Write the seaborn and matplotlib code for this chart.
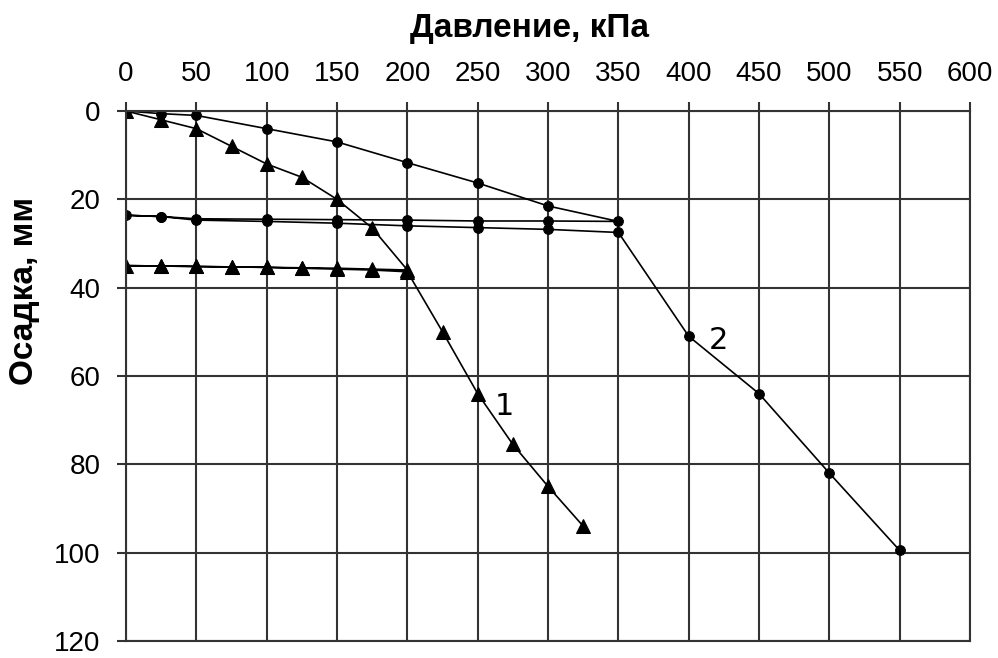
# ============================================================
# Осадка штампа: кривые 1 и 2 (нагрузка / разгрузка)
# ============================================================

import pandas as pd
import matplotlib.pyplot as plt
import seaborn as sns

# ============================================================
# Data
# ============================================================

# curve 1 (triangles): load -> unload -> reload -> load
curve1_p = [0, 25, 50, 75, 100, 125, 150, 175, 200,
            175, 150, 125, 100, 75, 50, 25, 0,
            25, 50, 75, 100, 125, 150, 175, 200,
            225, 250, 275, 300, 325]
curve1_s = [0, 2, 4, 8, 12, 15, 20, 26.5, 36,
            35.8, 35.6, 35.5, 35.4, 35.3, 35.2, 35.1, 35.0,
            35.1, 35.2, 35.3, 35.4, 35.6, 35.8, 36.0, 36.4,
            50, 64, 75.5, 85, 94]

# curve 2 (circles): load -> unload -> reload -> load
curve2_p = [0, 25, 50, 100, 150, 200, 250, 300, 350,
            300, 250, 200, 150, 100, 50, 25, 0,
            25, 50, 100, 150, 200, 250, 300, 350,
            400, 450, 500, 550]
curve2_s = [0, 0.6, 1, 4, 7, 11.7, 16.3, 21.5, 25,
            24.9, 24.9, 24.7, 24.6, 24.5, 24.4, 23.9, 23.6,
            23.9, 24.7, 25.0, 25.4, 26.0, 26.4, 26.8, 27.5,
            51, 64, 82, 99.5]

x_ticks = list(range(0, 601, 50))
y_ticks = list(range(0, 121, 20))

curve_labels = ["1", "2"]
label_pos_p = [269, 421]
label_pos_s = [67, 52]

df1 = pd.DataFrame({"p": curve1_p, "s": curve1_s})
df2 = pd.DataFrame({"p": curve2_p, "s": curve2_s})

# ============================================================
# Plot
# ============================================================

sns.set_style("white")
plt.rcParams["font.family"] = ["Liberation Sans", "DejaVu Sans"]
plt.rcParams["text.color"] = "black"
plt.rcParams["axes.labelcolor"] = "black"
plt.rcParams["xtick.color"] = "black"
plt.rcParams["ytick.color"] = "black"

fig = plt.figure(figsize=(9.98, 6.58), dpi=100)
ax = fig.add_axes([0.1263, 0.0258, 0.8457, 0.8055])

sns.lineplot(
    data=df1, x="p", y="s",
    sort=False, estimator=None,
    color="black", linewidth=1.2,
    marker="^", markersize=10,
    markeredgecolor="black", markerfacecolor="black",
    ax=ax
)

sns.lineplot(
    data=df2, x="p", y="s",
    sort=False, estimator=None,
    color="black", linewidth=1.2,
    marker="o", markersize=7,
    markeredgecolor="black", markerfacecolor="black",
    ax=ax
)

for lab, px, sy in zip(curve_labels, label_pos_p, label_pos_s):
    ax.text(px, sy, lab, fontsize=22, family="DejaVu Sans",
            color="black", ha="center", va="center")

ax.set_xlim(0, 600)
ax.set_ylim(120, 0)
ax.set_xticks(x_ticks)
ax.set_yticks(y_ticks)

ax.xaxis.tick_top()
ax.xaxis.set_label_position("top")
ax.set_xlabel("Давление, кПа", fontsize=24, fontweight="bold")
ax.xaxis.set_label_coords(0.4775, 1.156)
ax.xaxis.label.set_va("center")

ax.set_ylabel("Осадка, мм", fontsize=24, fontweight="bold")
ax.yaxis.set_label_coords(-0.12, 0.66)
ax.yaxis.label.set_va("center")

ax.tick_params(axis="x", length=6.5, width=1.5, color="#333333",
               labelcolor="black", pad=11, labelsize=20, top=True)
ax.tick_params(axis="y", length=6.5, width=1.5, color="#333333",
               labelcolor="black", pad=12, labelsize=20, left=True)

ax.grid(True, color="#333333", linewidth=1.5)
for spine in ax.spines.values():
    spine.set_visible(True)
    spine.set_color("#333333")
    spine.set_linewidth(1.5)
ax.set_axisbelow(True)

plt.savefig("out.png", dpi=100)
plt.close()
